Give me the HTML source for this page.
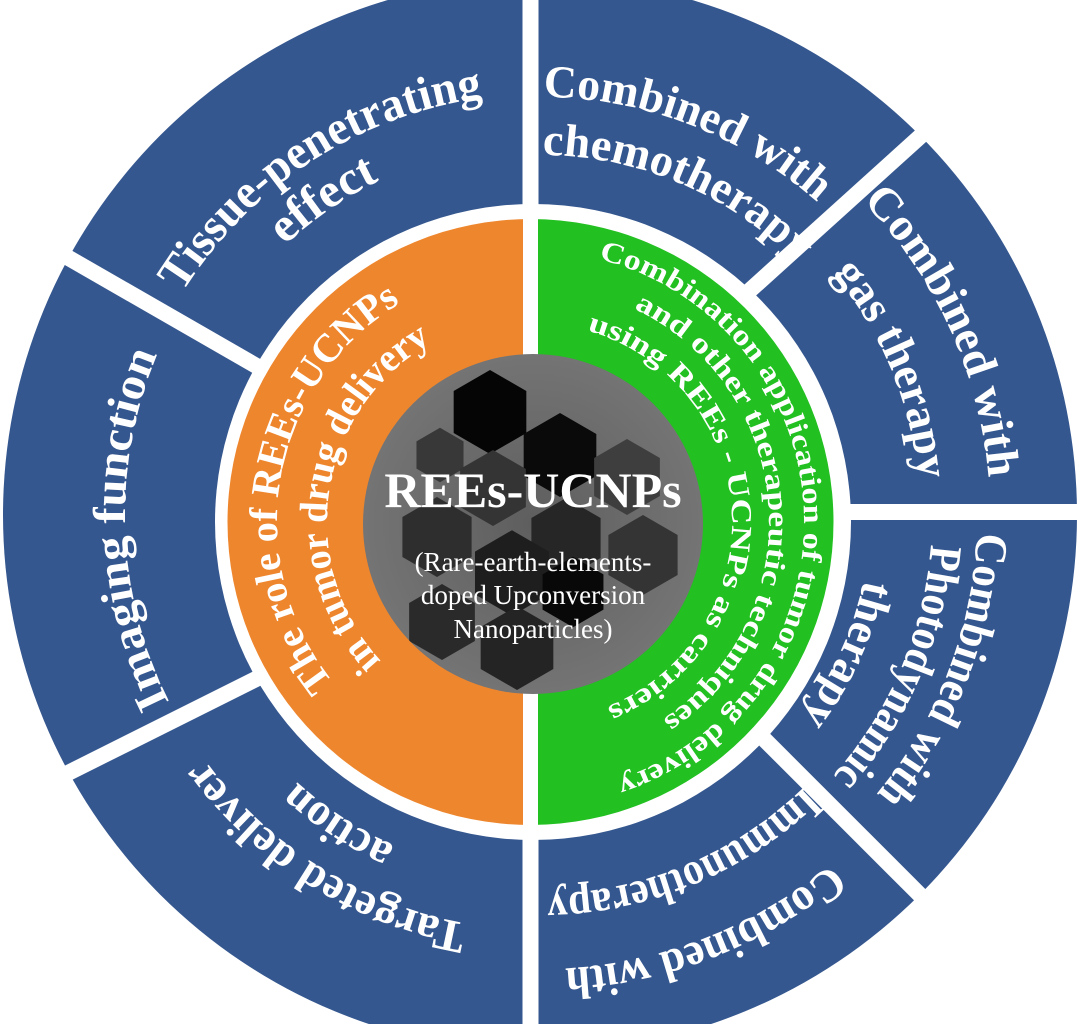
<!DOCTYPE html>
<html><head><meta charset="utf-8"><style>
html,body{margin:0;padding:0;background:#fff;}
svg{display:block;}
text{font-family:"Liberation Serif",serif;font-weight:bold;fill:#fff;}
</style></head><body>
<svg width="1080" height="1024" viewBox="0 0 1080 1024" xmlns="http://www.w3.org/2000/svg">
<defs>
<path id="a421" d="M119,515 A421,421 0 1 1 961,515 A421,421 0 1 1 119,515"/>
<path id="a371" d="M169,515 A371,371 0 1 1 911,515 A371,371 0 1 1 169,515"/>
<path id="a418" d="M122,515 A418,418 0 1 1 958,515 A418,418 0 1 1 122,515"/>
<path id="a360" d="M180,515 A360,360 0 1 1 900,515 A360,360 0 1 1 180,515"/>
<path id="a450" d="M90,515 A450,450 0 1 1 990,515 A450,450 0 1 1 90,515"/>
<path id="a380" d="M160,515 A380,380 0 1 1 920,515 A380,380 0 1 1 160,515"/>
<path id="a437" d="M103,515 A437,437 0 1 1 977,515 A437,437 0 1 1 103,515"/>
<path id="a392" d="M148,515 A392,392 0 1 1 932,515 A392,392 0 1 1 148,515"/>
<path id="a330" d="M210,515 A330,330 0 1 1 870,515 A330,330 0 1 1 210,515"/>
<path id="a454" d="M86,515 A454,454 0 1 1 994,515 A454,454 0 1 1 86,515"/>
<path id="a379" d="M161,515 A379,379 0 1 1 919,515 A379,379 0 1 1 161,515"/>
<path id="a415" d="M125,515 A415,415 0 1 1 955,515 A415,415 0 1 1 125,515"/>
<path id="a361" d="M179,515 A361,361 0 1 1 901,515 A361,361 0 1 1 179,515"/>
<path id="b256" d="M277,522 A256,256 0 1 1 789,522 A256,256 0 1 1 277,522"/>
<path id="b206" d="M327,522 A206,206 0 1 1 739,522 A206,206 0 1 1 327,522"/>
<path id="b271" d="M262,522 A271,271 0 1 1 804,522 A271,271 0 1 1 262,522"/>
<path id="b236" d="M297,522 A236,236 0 1 1 769,522 A236,236 0 1 1 297,522"/>
<path id="b199" d="M334,522 A199,199 0 1 1 732,522 A199,199 0 1 1 334,522"/>
<polygon id="hex" points="0,-40 34.6,-20 34.6,20 0,40 -34.6,20 -34.6,-20"/>
<clipPath id="cc"><circle cx="533" cy="524" r="170"/></clipPath>
<radialGradient id="gg" cx="50%" cy="50%" r="50%">
<stop offset="0" stop-color="#5e5e5e"/><stop offset="1" stop-color="#747474"/>
</radialGradient>
</defs>

<circle cx="540" cy="515" r="537" fill="#35578f"/>
<g stroke="#fff" stroke-width="16">
<line x1="530.5" y1="-10" x2="530.5" y2="1040"/>
<line x1="540" y1="480" x2="1100" y2="-26"/>
<line x1="540" y1="512" x2="1100" y2="512"/>
<line x1="600" y1="575" x2="1100" y2="1075"/>
<line x1="540" y1="537" x2="-100" y2="857"/>
<line x1="540" y1="529" x2="-100" y2="161"/>
</g>
<circle cx="533" cy="522" r="318" fill="#fff"/>
<path d="M530.5,219 A303,303 0 0 0 530.5,825 Z" fill="#ee862e"/>
<path d="M530.5,219 A303,303 0 0 1 530.5,825 Z" fill="#22c021"/>
<line x1="530.5" y1="210" x2="530.5" y2="835" stroke="#fff" stroke-width="15"/>

<circle cx="533" cy="524" r="170" fill="url(#gg)"/>
<g clip-path="url(#cc)">
<use href="#hex" transform="translate(490,412) scale(1.05)" fill="#050505"/>
<use href="#hex" transform="translate(560,455) scale(1.05)" fill="#0a0a0a"/>
<use href="#hex" transform="translate(440,455) scale(0.68)" fill="#383838"/>
<use href="#hex" transform="translate(437,537) scale(1.0)" fill="#2e2e2e"/>
<use href="#hex" transform="translate(493,488) scale(0.95)" fill="#343434"/>
<use href="#hex" transform="translate(566,538) scale(1.0)" fill="#262626"/>
<use href="#hex" transform="translate(627,477) scale(0.95)" fill="#3e3e3e"/>
<use href="#hex" transform="translate(643,555) scale(1.0)" fill="#343434"/>
<use href="#hex" transform="translate(512,573) scale(1.07)" fill="#1e1e1e"/>
<use href="#hex" transform="translate(442,622) scale(0.95)" fill="#2a2a2a"/>
<use href="#hex" transform="translate(517,648) scale(1.05)" fill="#242424"/>
<use href="#hex" transform="translate(573,592) scale(0.88)" fill="#080808"/>
</g>
<text x="533" y="507" font-size="50" text-anchor="middle">REEs-UCNPs</text>
<text x="533" y="571" font-size="27" style="font-weight:normal" text-anchor="middle">(Rare-earth-elements-</text>
<text x="533" y="604" font-size="27" style="font-weight:normal" text-anchor="middle">doped Upconversion</text>
<text x="533" y="638" font-size="27" style="font-weight:normal" text-anchor="middle">Nanoparticles)</text>

<g font-size="46">
<text font-size="48" transform="rotate(-123 540 515)"><textPath href="#a421" startOffset="50%" text-anchor="middle" textLength="370" lengthAdjust="spacingAndGlyphs">Tissue-penetrating</textPath></text>
<text font-size="48" transform="rotate(-124.5 540 515)"><textPath href="#a371" startOffset="50%" text-anchor="middle" textLength="115" lengthAdjust="spacingAndGlyphs">effect</textPath></text>
<text transform="rotate(-69 540 515)"><textPath href="#a418" startOffset="50%" text-anchor="middle" textLength="300" lengthAdjust="spacingAndGlyphs">Combined with</textPath></text>
<text transform="rotate(-67 540 515)"><textPath href="#a360" startOffset="50%" text-anchor="middle" textLength="284" lengthAdjust="spacingAndGlyphs">chemotherapy</textPath></text>
<text transform="rotate(-24.5 540 515)"><textPath href="#a450" startOffset="50%" text-anchor="middle" textLength="310" lengthAdjust="spacingAndGlyphs">Combined with</textPath></text>
<text transform="rotate(-22.5 540 515)"><textPath href="#a380" startOffset="50%" text-anchor="middle" textLength="227" lengthAdjust="spacingAndGlyphs">gas therapy</textPath></text>
<text transform="rotate(21 540 515)"><textPath href="#a437" startOffset="50%" text-anchor="middle" textLength="285" lengthAdjust="spacingAndGlyphs">Combined with</textPath></text>
<text transform="rotate(23 540 515)"><textPath href="#a392" startOffset="50%" text-anchor="middle" textLength="256" lengthAdjust="spacingAndGlyphs">Photodynamic</textPath></text>
<text transform="rotate(24.5 540 515)"><textPath href="#a330" startOffset="50%" text-anchor="middle" textLength="152" lengthAdjust="spacingAndGlyphs">therapy</textPath></text>
<text transform="rotate(68.5 540 515)"><textPath href="#a454" startOffset="50%" text-anchor="middle" textLength="291" lengthAdjust="spacingAndGlyphs">Combined with</textPath></text>
<text transform="rotate(67.3 540 515)"><textPath href="#a379" startOffset="50%" text-anchor="middle" textLength="287" lengthAdjust="spacingAndGlyphs">Immunotherapy</textPath></text>
<text transform="rotate(122 540 515)"><textPath href="#a415" startOffset="50%" text-anchor="middle" textLength="317" lengthAdjust="spacingAndGlyphs">Targeted deliver</textPath></text>
<text transform="rotate(123 540 515)"><textPath href="#a361" startOffset="50%" text-anchor="middle" textLength="118" lengthAdjust="spacingAndGlyphs">action</textPath></text>
<text transform="rotate(178 540 515)"><textPath href="#a415" startOffset="50%" text-anchor="middle" textLength="359" lengthAdjust="spacingAndGlyphs">Imaging function</textPath></text>
</g>

<g font-size="40">
<text transform="rotate(190 533 522)"><textPath href="#b256" startOffset="50%" text-anchor="middle" textLength="436" lengthAdjust="spacingAndGlyphs">The role of REEs-UCNPs</textPath></text>
<text transform="rotate(189 533 522)"><textPath href="#b206" startOffset="50%" text-anchor="middle" textLength="370" lengthAdjust="spacingAndGlyphs">in tumor drug delivery</textPath></text>
</g>
<g font-size="29">
<text transform="rotate(-2 533 522)"><textPath href="#b271" startOffset="50%" text-anchor="middle" textLength="700" lengthAdjust="spacingAndGlyphs">Combination application of tumor drug delivery</textPath></text>
<text transform="rotate(-4 533 522)"><textPath href="#b236" startOffset="50%" text-anchor="middle" textLength="500" lengthAdjust="spacingAndGlyphs">and other therapeutic techniques</textPath></text>
<text transform="rotate(-3 533 522)"><textPath href="#b199" startOffset="50%" text-anchor="middle" textLength="495" lengthAdjust="spacingAndGlyphs">using REEs - UCNPs as carriers</textPath></text>
</g>
</svg>
</body></html>
